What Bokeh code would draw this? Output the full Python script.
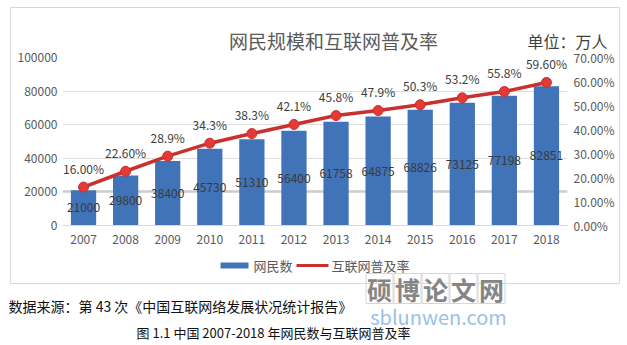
from bokeh.plotting import figure
from bokeh.models import (ColumnDataSource, Range1d, LinearAxis, FixedTicker,
                          PrintfTickFormatter, Grid)
from bokeh.core.properties import value
from bokeh.embed import file_html
from bokeh.resources import INLINE

years = ["2007", "2008", "2009", "2010", "2011", "2012", "2013", "2014", "2015", "2016", "2017", "2018"]
users = [21000, 29800, 38400, 45730, 51310, 56400, 61758, 64875, 68826, 73125, 77198, 82851]
rate = [16.0, 22.6, 28.9, 34.3, 38.3, 42.1, 45.8, 47.9, 50.3, 53.2, 55.8, 59.6]
rate_labels = ["16.00%", "22.60%", "28.9%", "34.3%", "38.3%", "42.1%", "45.8%", "47.9%",
               "50.3%", "53.2%", "55.8%", "59.60%"]
left_ticks = [0, 20000, 40000, 60000, 80000, 100000]
right_ticks = [0, 10, 20, 30, 40, 50, 60, 70]
series_names = ["网民数", "互联网普及率"]

title_text = "网民规模和互联网普及率"
unit_text = "单位：万人"
source_text = "数据来源：第 43 次《中国互联网络发展状况统计报告》"
caption_text = "图 1.1 中国 2007-2018 年网民数与互联网普及率"
watermark_cn = ["硕", "博", "论", "文", "网"]
watermark_url = "sblunwen.com"

FONT = "Noto Sans CJK SC"
W, H = 627, 345
FL, FT, FR, FB = 62, 57, 567, 225
BAR_COLOR = "#4173B8"
LINE_COLOR = "#C8312E"
DOT_COLOR = "#E53935"

idx = list(range(len(years)))
src = ColumnDataSource(dict(i=idx, users=users, mid=[u / 2 for u in users],
                            ulab=[str(u) for u in users], rate=rate, rlab=rate_labels))

p = figure(width=W, height=H, x_range=Range1d(-0.5, len(years) - 0.5), y_range=Range1d(0, 100000),
           output_backend="svg", toolbar_location=None,
           min_border_left=FL, min_border_right=W - FR, min_border_top=FT, min_border_bottom=H - FB)
p.title.visible = False
p.outline_line_color = None
p.background_fill_color = "white"
p.border_fill_color = "white"
p.extra_y_ranges = {"pct": Range1d(0, 70), "py": Range1d(FB, FT)}
p.extra_x_ranges = {"px": Range1d(FL, FR)}

p.xgrid.grid_line_color = None
p.ygrid.grid_line_color = "#dedede"
p.ygrid.ticker = FixedTicker(ticks=left_ticks)
p.add_layout(Grid(dimension=1, ticker=FixedTicker(ticks=[20000]), grid_line_color="#cdcdcd",
                  grid_line_width=2.5))

ax = p.xaxis[0]
ax.ticker = FixedTicker(ticks=idx)
ax.major_label_overrides = {i: y for i, y in zip(idx, years)}
ax.minor_tick_line_color = None
ax.axis_line_color = "#d9d9d9"
ax.major_tick_line_color = None
ax.major_tick_in = 0
ax.major_tick_out = 0
ax.major_label_standoff = 9
ax.major_label_text_font = FONT
ax.major_label_text_font_size = "12px"
ax.major_label_text_color = "#595959"

ay = p.yaxis[0]
ay.ticker = FixedTicker(ticks=left_ticks)
ay.formatter = PrintfTickFormatter(format="%d")
ay.axis_line_color = None
ay.major_tick_line_color = None
ay.minor_tick_line_color = None
ay.major_tick_in = 0
ay.major_tick_out = 0
ay.major_label_standoff = 5
ay.major_label_text_font = FONT
ay.major_label_text_font_size = "12px"
ay.major_label_text_color = "#595959"

ry = LinearAxis(y_range_name="pct", ticker=FixedTicker(ticks=right_ticks),
                formatter=PrintfTickFormatter(format="%.2f%%"))
ry.axis_line_color = None
ry.major_tick_line_color = None
ry.minor_tick_line_color = None
ry.major_tick_in = 0
ry.major_tick_out = 0
ry.major_label_standoff = 6
ry.major_label_text_font = FONT
ry.major_label_text_font_size = "12px"
ry.major_label_text_color = "#595959"
p.add_layout(ry, "right")

p.vbar(x="i", top="users", width=0.6, source=src, fill_color=BAR_COLOR, line_color=None)
p.text(x="i", y="mid", text="ulab", source=src, text_align="center", text_baseline="middle",
       text_font=value(FONT), text_font_size="12px", text_color="#3a3a3a")

p.line(x="i", y="rate", source=src, y_range_name="pct", line_color=LINE_COLOR, line_width=3.5)
p.scatter(x="i", y="rate", source=src, y_range_name="pct", size=10,
          fill_color=DOT_COLOR, line_color=LINE_COLOR, line_width=1)
p.text(x="i", y="rate", text="rlab", source=src, y_range_name="pct", y_offset=-19,
       text_align="center", text_baseline="middle", text_font=value(FONT),
       text_font_size="12px", text_color="#404040")

# page decorations drawn in canvas-pixel coordinates (overlay level, not clipped)
PX = dict(x_range_name="px", y_range_name="py", level="overlay")

# outer chart border
p.quad(left=[10], right=[619], top=[7], bottom=[283], fill_alpha=0,
       line_color="#d9d9d9", line_width=1, **PX)

def txt(X, Y, text, size, color, align="left", bold=False):
    p.text(x=[X], y=[Y], text=[text], text_font=value(FONT), text_font_size=size,
           text_color=color, text_align=align, text_baseline="middle",
           text_font_style="bold" if bold else "normal", **PX)

# legend
p.quad(left=[220], right=[248], top=[262], bottom=[268], fill_color=BAR_COLOR, line_color=None, **PX)
txt(253, 265, series_names[0], "13px", "#595959")
p.line(x=[296, 328], y=[265, 265], line_color=LINE_COLOR, line_width=3, **PX)
p.scatter(x=[312], y=[265], size=9, fill_color=DOT_COLOR, line_color=LINE_COLOR, **PX)
txt(331, 265, series_names[1], "13px", "#595959")

txt(333, 40, title_text, "19px", "#595959", "center")
txt(527, 40, unit_text, "16px", "#404040")
txt(8, 305, source_text, "14px", "#111111")
txt(273, 332, caption_text, "13px", "#111111", "center")

# watermark
wx = [379 + 28 * i for i in range(5)]
p.rect(x=wx, y=[288] * 5, width=27, height=30, fill_alpha=0, line_color="#d6d6d6",
       line_width=1, **PX)
p.text(x=wx, y=[288] * 5, text=watermark_cn, text_font=value(FONT), text_font_size="25px",
       text_color="#858585", text_align="center", text_baseline="middle",
       text_font_style="bold", **PX)
txt(438, 316, watermark_url, "20px", "#9cc0e6", "center")

open("out.html", "w").write(file_html(p, INLINE))
